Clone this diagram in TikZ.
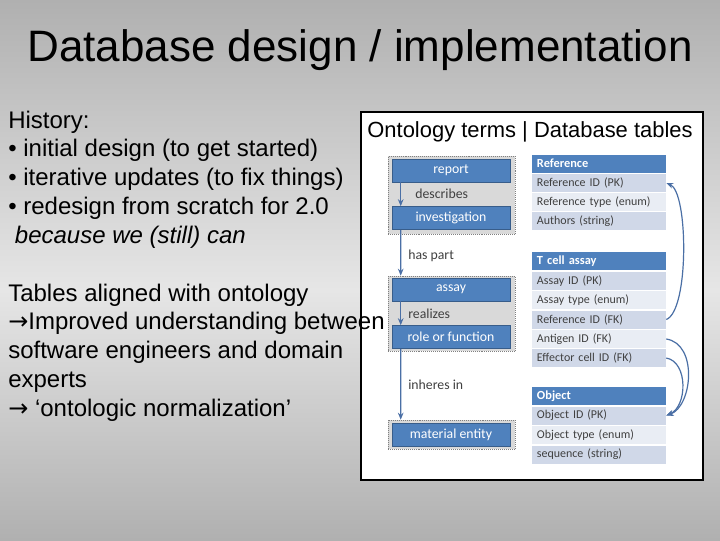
\documentclass[tikz,border=0pt]{standalone}
\usepackage{fontspec}
\setmainfont{Liberation Sans}
\newfontfamily\calibri{Carlito}
\newfontfamily\arrowfont{DejaVu Sans}
\usetikzlibrary{arrows.meta, calc}

\definecolor{boxblue}{HTML}{4F81BD}
\definecolor{boxedge}{HTML}{385D8A}
\definecolor{rowdark}{HTML}{D0D8E8}
\definecolor{rowlight}{HTML}{E9EDF4}
\definecolor{groupgray}{HTML}{D9D9D9}
\definecolor{relgray}{HTML}{404040}
\definecolor{linkblue}{HTML}{4A6FA5}
\definecolor{slidegray}{HTML}{B0B0B0}
\definecolor{slidelight}{HTML}{E6E6E6}

\begin{document}
\begin{tikzpicture}[x = 0.025cm, y = -0.025cm,
 slidetext/.style = {anchor = base west, inner sep = 0, font = \fontsize{17.07}{20.5}\selectfont},
 concept/.style = {draw = boxedge, fill = boxblue, text = white, minimum width = 2.95cm, minimum height = 0.575cm, inner sep = 0, font = \calibri\fontsize{9.8}{11}\selectfont},
 group/.style = {draw = gray, densely dotted, fill = groupgray, minimum width = 3.175cm, inner sep = 0},
 relation/.style = {anchor = west, inner sep = 0, text = relgray, font = \calibri\fontsize{9.8}{11}\selectfont},
 flow/.style = {draw = linkblue, line width = 0.85pt, -{Stealth[length = 5pt, width = 4pt]}},
 tabrow/.style = {minimum width = 3.35cm, minimum height = 0.45cm, text width = 3.1cm, inner xsep = 0.125cm, inner ysep = 0, align = left, text = black!75, font = \calibri\fontsize{8.5}{10}\selectfont},
 theader/.style = {tabrow, fill = boxblue, text = white, font = \calibri\bfseries\fontsize{8.8}{10}\selectfont}]
 \useasboundingbox (0,0) rectangle (720,540);
 % slide background, lighter in the middle
 \shade[top color = slidegray, bottom color = slidelight, draw = none] (0,0) rectangle (720,290);
 \shade[top color = slidelight, bottom color = slidegray, draw = none] (0,290) rectangle (720,540);

 % title
 \node[anchor = base, inner sep = 0, font = \fontsize{31.3}{36}\selectfont] (title) at (360,61) {Database design / implementation};

 % picture panel
 \draw[fill = white, line width = 0.9pt] (361,112) coordinate (panelnw) rectangle (703,480) coordinate (panelse);
 \node[anchor = base, inner sep = 0, font = \fontsize{15.6}{18}\selectfont] (panelhead) at (530,137) {Ontology terms | Database tables};

 % slide text
 \node[slidetext] (hist) at (8,128) {History:};
 \node[slidetext] (hista) at (8,156.8) {• initial design (to get started)};
 \node[slidetext] (histb) at (8,185.6) {• iterative updates (to fix things)};
 \node[slidetext] (histc) at (8,214.4) {• redesign from scratch for 2.0};
 \node[slidetext] (histd) at (8,243.2) {\itshape\ because we (still) can};
 \node[slidetext] (align) at (8,301) {Tables aligned with ontology};
 \node[slidetext] (aligna) at (8,329.8) {{\arrowfont →}Improved understanding between};
 \node[slidetext] (alignb) at (8,358.6) {software engineers and domain};
 \node[slidetext] (alignc) at (8,387.4) {experts};
 \node[slidetext] (alignd) at (8,416.2) {{\arrowfont →} ‘ontologic normalization’};

 % ontology terms
 \node[group, minimum height = 1.95cm] (grpinv) at (451.5,195) {};
 \node[group, minimum height = 1.875cm] (grpassay) at (451.5,313.5) {};
 \node[group, minimum height = 0.725cm] (grpmat) at (451.5,434.5) {};
 \node[concept] (report) at (451,170.5) {report};
 \node[concept] (investigation) at (451,218) {investigation};
 \node[concept] (assay) at (451,289.5) {assay};
 \node[concept] (role) at (451,337) {role or function};
 \node[concept] (material) at (451,434.5) {material entity};
 \node[relation] (describes) at (415,194) {describes};
 \node[relation] (haspart) at (408,256) {has part};
 \node[relation] (realizes) at (408,314) {realizes};
 \node[relation] (inheres) at (408,385) {inheres in};
 \draw[flow] ($(report.south west)+(9,0)$) -- ($(investigation.north west)+(9,0)$);
 \draw[flow] ($(investigation.south west)+(9,0)$) -- ($(grpassay.north west)+(13,0)$);
 \draw[flow] ($(assay.south west)+(9,0)$) -- ($(role.north west)+(9,0)$);
 \draw[flow] ($(role.south west)+(9,0)$) -- ($(grpmat.north west)+(13,0)$);

 % database tables
 \node[theader] (refhead) at (599,163.5) {Reference};
 \node[tabrow, fill = rowdark] (refid) at (599,183) {Reference ID (PK)};
 \node[tabrow, fill = rowlight] (reftype) at (599,202) {Reference type (enum)};
 \node[tabrow, fill = rowdark] (refauth) at (599,221) {Authors (string)};

 \node[theader] (tcellhead) at (599,261) {T cell assay};
 \node[tabrow, fill = rowdark] (assayid) at (599,281) {Assay ID (PK)};
 \node[tabrow, fill = rowlight] (assaytype) at (599,300) {Assay type (enum)};
 \node[tabrow, fill = rowdark] (tcellref) at (599,319.5) {Reference ID (FK)};
 \node[tabrow, fill = rowlight] (antigen) at (599,339) {Antigen ID (FK)};
 \node[tabrow, fill = rowdark] (effector) at (599,358) {Effector cell ID (FK)};

 \node[theader] (objhead) at (599,396) {Object};
 \node[tabrow, fill = rowdark] (objid) at (599,415.5) {Object ID (PK)};
 \node[tabrow, fill = rowlight] (objtype) at (599,435) {Object type (enum)};
 \node[tabrow, fill = rowdark] (objseq) at (599,454.5) {sequence (string)};

 \draw[flow] (tcellref.east) .. controls +(23,-9) and +(22,9) .. (refid.east);
 \draw[flow] (antigen.east) .. controls +(32,5) and +(26,-9) .. (objid.east);
 \draw[flow] (effector.east) .. controls +(22,4) and +(21,-9) .. (objid.east);
\end{tikzpicture}
\end{document}
